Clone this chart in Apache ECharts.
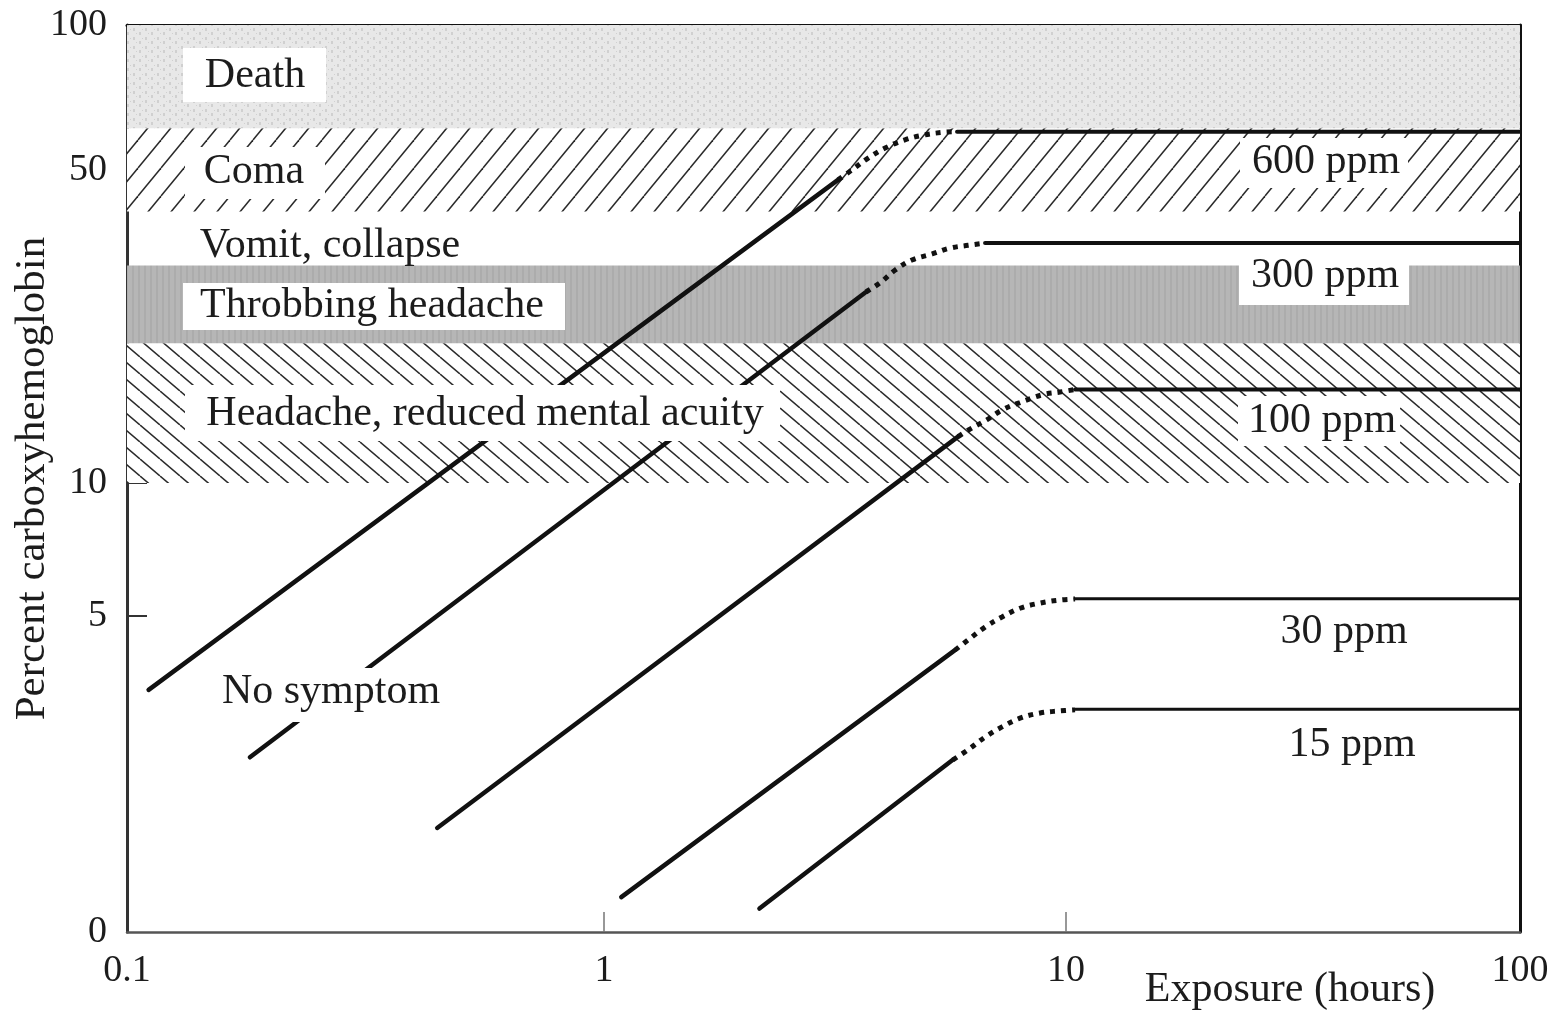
<!DOCTYPE html>
<html><head><meta charset="utf-8">
<script src="https://cdn.jsdelivr.net/npm/echarts@6/dist/echarts.min.js"></script>
<style>html,body{margin:0;padding:0;background:#fff}#c{width:1549px;height:1012px}</style>
</head><body><div id="c"></div>
<script>
// ---------------- data ----------------
const X_TICKS = [0.1, 1, 10, 100];
const X_TICK_LABELS = ['0.1', '1', '10', '100'];
const Y_TICKS = [0, 5, 10, 50, 100];
const Y_TICK_LABELS = ['0', '5', '10', '50', '100'];

const BAND_NAMES = ['Headache, reduced mental acuity', 'Throbbing headache', 'Vomit, collapse', 'Coma', 'Death'];
const BAND_LOW  = [10, 20, 30, 40, 61];
const BAND_HIGH = [20, 30, 40, 61, 100];
const NO_SYMPTOM = 'No symptom';

const SERIES_NAMES = ['600 ppm', '300 ppm', '100 ppm', '30 ppm', '15 ppm'];
// [exposure hours, % COHb]
const RISE_600 = [[0.111, 3.10], [3.21, 47.4]];
const CURVE_600 = [[3.21, 47.4], [3.44, 50.0], [3.73, 52.9], [4.06, 55.5], [4.48, 57.7], [4.90, 59.0], [5.42, 59.8], [5.81, 60.0]];
const PLATEAU_600 = [[5.81, 60.0], [100, 60.0]];

const RISE_300 = [[0.181, 1.86], [3.69, 26.1]];
const CURVE_300 = [[3.69, 26.1], [3.96, 27.4], [4.27, 29.3], [4.64, 30.9], [5.13, 31.9], [5.61, 32.9], [6.14, 33.4], [6.68, 33.8]];
const PLATEAU_300 = [[6.68, 33.8], [100, 33.8]];

const RISE_100 = [[0.447, 0.92], [5.84, 12.5]];
const CURVE_100 = [[5.84, 12.5], [6.14, 12.9], [6.75, 13.6], [7.31, 14.3], [7.95, 14.8], [8.92, 15.4], [9.71, 15.6], [10.47, 15.8]];
const PLATEAU_100 = [[10.47, 15.8], [100, 15.8]];

const RISE_30 = [[1.09, 0.26], [5.75, 4.04]];
const CURVE_30 = [[5.75, 4.04], [6.14, 4.31], [6.68, 4.67], [7.27, 4.97], [7.95, 5.22], [8.79, 5.37], [9.71, 5.46], [10.47, 5.49]];
const PLATEAU_30 = [[10.47, 5.5], [100, 5.5]];

const RISE_15 = [[2.17, 0.17], [5.69, 1.82]];
const CURVE_15 = [[5.69, 1.82], [6.14, 1.98], [6.68, 2.19], [7.27, 2.37], [7.95, 2.53], [8.79, 2.63], [9.71, 2.67], [10.47, 2.69]];
const PLATEAU_15 = [[10.47, 2.7], [100, 2.7]];

// ---------------- axis scale (irregular, hand-drawn original) ----------------
const X_FRAC = [0, 477 / 1393, 939 / 1393, 1];
const Y_FRAC = [0, 316 / 907, 449 / 907, 762 / 907, 1];
function warpX(h) {
  const L = Math.log10(h);
  for (let i = 0; i < X_TICKS.length - 1; i++) {
    const a = Math.log10(X_TICKS[i]), b = Math.log10(X_TICKS[i + 1]);
    if (L <= b || i === X_TICKS.length - 2) {
      const t = (L - a) / (b - a);
      return X_FRAC[i] + t * (X_FRAC[i + 1] - X_FRAC[i]);
    }
  }
}
function gY(p, seg) { return seg < 2 ? Math.log10(p + 1.45) : Math.log10(p - 1.5); }
function warpY(p) {
  for (let i = 0; i < Y_TICKS.length - 1; i++) {
    if (p <= Y_TICKS[i + 1] || i === Y_TICKS.length - 2) {
      const a = gY(Y_TICKS[i], i), b = gY(Y_TICKS[i + 1], i);
      const t = (gY(p, i) - a) / (b - a);
      return Y_FRAC[i] + t * (Y_FRAC[i + 1] - Y_FRAC[i]);
    }
  }
}
const pt = d => [warpX(d[0]), warpY(d[1])];
function tickLabel(v, ticks, labels, warp) {
  let best = 0, bd = Infinity;
  ticks.forEach((t, i) => { const d = Math.abs(warp(t) - v); if (d < bd) { bd = d; best = i; } });
  return labels[best];
}

// ---------------- patterns ----------------
function mk(w, h) { const c = document.createElement('canvas'); c.width = w; c.height = h; return c; }
function hatch(w, h, dir, color, lw) {
  const c = mk(w, h), ctx = c.getContext('2d');
  ctx.fillStyle = '#fff'; ctx.fillRect(0, 0, w, h);
  ctx.strokeStyle = color; ctx.lineWidth = lw;
  for (const o of [-w, 0, w]) {
    ctx.beginPath();
    if (dir > 0) { ctx.moveTo(o, h); ctx.lineTo(o + w, 0); }
    else { ctx.moveTo(o, 0); ctx.lineTo(o + w, h); }
    ctx.stroke();
  }
  return c;
}
function deathTile() {
  const c = mk(12, 9), ctx = c.getContext('2d');
  ctx.fillStyle = '#e8e8e8'; ctx.fillRect(0, 0, 12, 9);
  ctx.fillStyle = '#d0d0d0';
  ctx.fillRect(1, 1, 2, 3); ctx.fillRect(7, 5, 2, 3); ctx.fillRect(4, 6, 1, 1); ctx.fillRect(10, 2, 1, 1);
  return c;
}
function grayTile() {
  const c = mk(6, 6), ctx = c.getContext('2d');
  ctx.fillStyle = '#b6b6b6'; ctx.fillRect(0, 0, 6, 6);
  ctx.fillStyle = '#acacac'; ctx.fillRect(0, 0, 2, 6);
  return c;
}
const BAND_FILLS = [
  { image: hatch(20, 17, -1, '#2a2a2a', 1.5), repeat: 'repeat' },
  { image: grayTile(), repeat: 'repeat' },
  null,
  { image: hatch(23, 28, 1, '#2a2a2a', 1.5), repeat: 'repeat' },
  { image: deathTile(), repeat: 'repeat' }
];

const FONT = "'Liberation Serif', 'DejaVu Serif', serif";
const INK = '#1c1c1c';

function lineSeries(name, data, w, type, smooth) {
  return {
    type: 'line', name, data: data.map(pt), symbol: 'none', showSymbol: false, z: 3, silent: true,
    smooth: smooth || false, animation: false,
    lineStyle: { color: '#111', width: w, type: type || 'solid', cap: type ? 'butt' : 'round' }
  };
}
const GROUPS = [
  [RISE_600, CURVE_600, PLATEAU_600, 4],
  [RISE_300, CURVE_300, PLATEAU_300, 4],
  [RISE_100, CURVE_100, PLATEAU_100, 4],
  [RISE_30, CURVE_30, PLATEAU_30, 3],
  [RISE_15, CURVE_15, PLATEAU_15, 3]
];
const series = [{
  type: 'custom', z: 1, silent: true, animation: false,
  data: BAND_LOW.map((lo, i) => [warpY(lo), warpY(BAND_HIGH[i]), i]),
  encode: { y: [0, 1] },
  renderItem: (params, api) => {
    const k = api.value(2), fill = BAND_FILLS[k];
    if (!fill) return null;
    const cs = params.coordSys;
    const yTop = api.coord([0, api.value(1)])[1], yBot = api.coord([0, api.value(0)])[1];
    return { type: 'rect', shape: { x: cs.x, y: yTop, width: cs.width, height: yBot - yTop }, style: { fill } };
  }
}];
GROUPS.forEach((g, i) => {
  series.push(lineSeries(SERIES_NAMES[i], g[0], 4.5));
  series.push(lineSeries(SERIES_NAMES[i], g[1], 5, [5, 6], 0.4));
  series.push(lineSeries(SERIES_NAMES[i], g[2], g[3]));
});

// ---------------- annotation layout ----------------
// [text, centerX, centerY, box [x, y, w, h] or null]
const NOTES = [
  [BAND_NAMES[4], 255, 76, [183, 48, 143, 54]],
  [BAND_NAMES[3], 254, 172, [185, 147, 140, 52]],
  [BAND_NAMES[2], 330, 246, null],
  [BAND_NAMES[1], 372, 306, [183, 283, 382, 47]],
  [BAND_NAMES[0], 485, 414, [185, 385, 595, 56]],
  [NO_SYMPTOM, 331, 692, [205, 668, 255, 54]],
  [SERIES_NAMES[0], 1326, 162, [1240, 138, 168, 50]],
  [SERIES_NAMES[1], 1325, 276, [1239, 250, 170, 55]],
  [SERIES_NAMES[2], 1322, 421, [1238, 396, 162, 50]],
  [SERIES_NAMES[3], 1344, 632, null],
  [SERIES_NAMES[4], 1352, 745, null],
  ['Exposure (hours)', 1290, 990, null]
];
const graphic = [];
NOTES.forEach(n => {
  if (n[3]) graphic.push({ type: 'rect', z: 10, silent: true, shape: { x: n[3][0], y: n[3][1], width: n[3][2], height: n[3][3] }, style: { fill: '#fff' } });
  graphic.push({ type: 'text', z: 11, silent: true, x: n[1], y: n[2], style: { text: n[0], fontSize: 42, fontFamily: FONT, fill: INK, align: 'center', verticalAlign: 'middle', textAlign: 'center', textVerticalAlign: 'middle' } });
});

const tickFont = { fontFamily: FONT, fontSize: 38, color: INK };
const chart = echarts.init(document.getElementById('c'), null, { renderer: 'canvas' });
chart.setOption({
  backgroundColor: '#fff',
  animation: false,
  grid: { left: 127, right: 29, top: 25, bottom: 80, containLabel: false, outerBoundsMode: 'none' },
  xAxis: [{
    type: 'value', min: 0, max: 1, position: 'bottom',
    axisLine: { show: true, onZero: false, lineStyle: { color: '#555', width: 2.5 } },
    axisTick: { show: true, inside: true, length: 20, customValues: [warpX(1), warpX(10)], lineStyle: { color: '#777', width: 1.5 } },
    axisLabel: Object.assign({ margin: 20, customValues: X_TICKS.map(warpX), formatter: v => tickLabel(v, X_TICKS, X_TICK_LABELS, warpX) }, tickFont),
    splitLine: { show: false }
  }, {
    type: 'value', min: 0, max: 1, position: 'top',
    axisLine: { show: true, onZero: false, lineStyle: { color: '#111', width: 3 } },
    axisTick: { show: false }, axisLabel: { show: false }, splitLine: { show: false }
  }],
  yAxis: [{
    type: 'value', min: 0, max: 1, position: 'left',
    name: 'Percent carboxyhemoglobin', nameLocation: 'middle', nameGap: 73, nameMoveOverlap: false,
    nameTextStyle: { fontFamily: FONT, fontSize: 43, color: INK },
    axisLine: { show: true, onZero: false, lineStyle: { color: '#333', width: 3 } },
    axisTick: { show: true, inside: true, length: 20, customValues: [warpY(5), warpY(10), warpY(50)], lineStyle: { color: '#333', width: 2 } },
    axisLabel: Object.assign({ margin: 20, customValues: Y_TICKS.map(warpY), formatter: v => tickLabel(v, Y_TICKS, Y_TICK_LABELS, warpY) }, tickFont),
    splitLine: { show: false }
  }, {
    type: 'value', min: 0, max: 1, position: 'right',
    axisLine: { show: true, onZero: false, lineStyle: { color: '#111', width: 3 } },
    axisTick: { show: false }, axisLabel: { show: false }, splitLine: { show: false }
  }],
  series,
  graphic
});
</script></body></html>
